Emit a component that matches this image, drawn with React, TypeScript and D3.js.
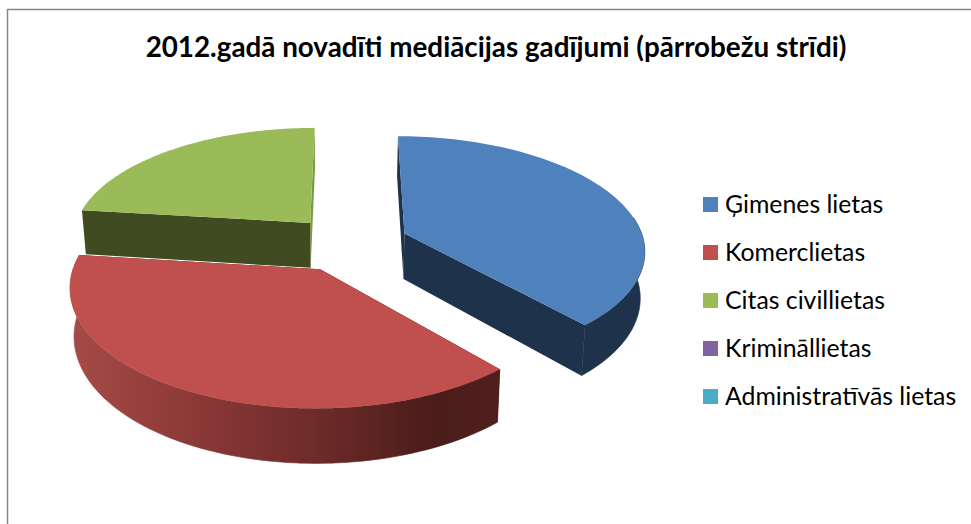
import React from "react";
import * as d3 from "d3";

const titleText = "2012.gadā novadīti mediācijas gadījumi (pārrobežu strīdi)";
const categories = ["Ģimenes lietas", "Komerclietas", "Citas civillietas", "Krimināllietas", "Administratīvās lietas"];
const values = [5, 5, 3, 0, 0];
const topColors = ["#4F81BD", "#C0504D", "#9BBB59", "#8064A2", "#4BACC6"];
const sideColors = ["#1E324C", "#4A1C1A", "#404B22", "#3A2C4A", "#1E4A55"];
const sliverColors = ["#1E324C", "#4A1C1A", "#7C9A43", "#3A2C4A", "#1E4A55"];

const W = 971, H = 524;
const startDeg = 0;
const explode = 0.25;
const view = { cx: 349, cy: 243.5, ax: 240, ay: 112.9, k: 0.134, depth: 46, shrink: 0.015, vx: 340 };

type P = { X: number; V: number };

function project(p: P, z: number): [number, number] {
  const d = 1 + view.k * p.V;
  const x = view.cx + (view.ax * p.X) / d;
  const y = view.cy - (view.ay * p.V) / d + (z * view.depth) / d;
  return [x + (view.vx - x) * view.shrink * z, y];
}

const pieGen = d3
  .pie<number>()
  .sort(null)
  .startAngle((startDeg * Math.PI) / 180)
  .endAngle(((startDeg + 360) * Math.PI) / 180);
const arcs = pieGen(values);
const line = d3.line<[number, number]>();

function polar(c: P, r: number, a: number): P {
  return { X: c.X + r * Math.sin(a), V: c.V + r * Math.cos(a) };
}

function App() {
  const slices = arcs
    .map((a, i) => {
      const mid = (a.startAngle + a.endAngle) / 2;
      const c = polar({ X: 0, V: 0 }, explode, mid);
      const n = 90;
      const angs = d3.range(n + 1).map((j) => a.startAngle + ((a.endAngle - a.startAngle) * j) / n);
      const rim = angs.map((t) => polar(c, 1, t));
      const frontRim = angs.filter((t) => Math.cos(t) < 0.15).map((t) => polar(c, 1, t));
      const top = line([project(c, 0), ...rim.map((p) => project(p, 0))]) + "Z";
      const startFace = line([project(c, 0), project(rim[0], 0), project(rim[0], 1), project(c, 1)]) + "Z";
      const endFace = line([project(c, 0), project(rim[n], 0), project(rim[n], 1), project(c, 1)]) + "Z";
      const outer =
        line([...frontRim.map((p) => project(p, 0)), ...frontRim.slice().reverse().map((p) => project(p, 1))]) + "Z";
      return { i, top, startFace, endFace, outer, value: a.value };
    })
    .filter((s) => s.value > 0);
  const order = [2, 0, 1];
  const byIndex = (i: number) => slices.find((s) => s.i === i)!;
  const legendY = d3.scalePoint<string>().domain(categories).range([204.5, 396.5]);

  return (
    <svg width={W} height={H} style={{ position: "absolute", left: 0, top: 0, background: "#fff" }}>
      <defs>
        <linearGradient id="redSide" gradientUnits="userSpaceOnUse" x1={71} x2={499} y1={0} y2={0}>
          <stop offset="0" stopColor="#A54B48" />
          <stop offset="0.3" stopColor="#8A3836" />
          <stop offset="0.6" stopColor="#6A2A28" />
          <stop offset="0.85" stopColor="#4A1C1A" />
          <stop offset="1" stopColor="#4E1F1D" />
        </linearGradient>
      </defs>
      <path d={`M7.5,${H}V9.5H${W}`} fill="none" stroke="#868686" strokeWidth={1.5} />
      <text
        x={496}
        y={57}
        textAnchor="middle"
        fontFamily="Lato, Carlito, sans-serif"
        fontWeight={700}
        fontSize={27.8}
        fill="#000"
      >
        {titleText}
      </text>
      {order.map((i) => {
        const s = byIndex(i);
        const sideFill = i === 1 ? "url(#redSide)" : sideColors[i];
        return (
          <g key={i}>
            <path d={s.endFace} fill={sliverColors[i]} />
            <path d={s.startFace} fill={sideColors[i]} />
            {i !== 2 && <path d={s.outer} fill={sideFill} stroke={sideFill} strokeWidth={0.6} />}
            <path d={s.top} fill={topColors[i]} />
          </g>
        );
      })}
      {categories.map((c, i) => (
        <g key={c}>
          <rect x={703} y={legendY(c)! - 7.5} width={15} height={15} fill={topColors[i]} />
          <text x={725} y={legendY(c)! + 8} fontFamily="Lato, Carlito, sans-serif" fontSize={24.8} fill="#000">
            {c}
          </text>
        </g>
      ))}
    </svg>
  );
}

export default App;
